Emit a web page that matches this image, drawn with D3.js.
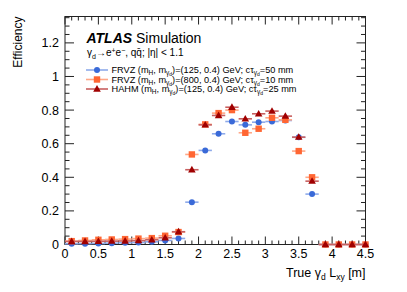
<!DOCTYPE html>
<html>
<head>
<meta charset="utf-8">
<script src="https://cdn.jsdelivr.net/npm/d3@7"></script>
<style>
  body { margin: 0; background: #fff; }
  text { font-family: "Liberation Sans", Arial, sans-serif; }
</style>
</head>
<body>
<div id="chart"></div>
<script>
// bin centres (bin width 0.2 m)
const lxy = [0.1, 0.3, 0.5, 0.7, 0.9, 1.1, 1.3, 1.5, 1.7, 1.9, 2.1, 2.3, 2.5, 2.7, 2.9, 3.1, 3.3, 3.5, 3.7, 3.9, 4.1, 4.3, 4.5];

const frvz125 = [0.004, 0.005, 0.006, 0.008, 0.010, 0.012, 0.016, 0.024, 0.036, 0.252, 0.560, 0.659, 0.732, 0.712, 0.728, 0.732, 0.738, 0.638, 0.300, 0, 0, 0, 0];
const frvz800 = [0.020, 0.024, 0.028, 0.030, 0.032, 0.035, 0.038, 0.052, 0.074, 0.536, 0.715, 0.782, 0.800, 0.665, 0.689, 0.754, 0.742, 0.556, 0.400, 0, 0, 0, 0];
const hahm    = [0.018, 0.018, 0.019, 0.020, 0.021, 0.023, 0.028, 0.040, 0.076, 0.445, 0.712, 0.768, 0.817, 0.748, 0.778, 0.794, 0.764, 0.639, 0.377, 0, 0, 0, 0];

const xTicks = [0, 0.5, 1, 1.5, 2, 2.5, 3, 3.5, 4, 4.5];
const yTicks = [0, 0.2, 0.4, 0.6, 0.8, 1, 1.2];

const W = 407, H = 292;
const margin = {left: 65, right: 41.5, top: 16.5, bottom: 47.5};

let svg = d3.select("#chart").append("svg")
    .attr("width", W).attr("height", H);

let x = d3.scaleLinear().domain([0, 4.5]).range([margin.left, W - margin.right]);
let y = d3.scaleLinear().domain([0, 1.357]).range([H - margin.bottom, margin.top]);

// frame
svg.append("rect")
    .attr("x", x(0)).attr("y", y(1.357))
    .attr("width", x(4.5) - x(0)).attr("height", y(0) - y(1.357))
    .attr("fill", "none").attr("stroke", "#222").attr("stroke-width", 1);

// ticks, ROOT style: inward on all four sides
let xMinor = d3.range(0, 4.501, 0.1);
let yMinor = d3.range(0, 1.351, 0.05);
let tk = svg.append("g").attr("stroke", "#222").attr("stroke-width", 1);
xMinor.forEach(function(v, i) {
  let len = (i % 5 == 0) ? 8 : 4;
  tk.append("line").attr("x1", x(v)).attr("x2", x(v)).attr("y1", y(0)).attr("y2", y(0) - len);
  tk.append("line").attr("x1", x(v)).attr("x2", x(v)).attr("y1", y(1.357)).attr("y2", y(1.357) + len);
});
yMinor.forEach(function(v, i) {
  let len = (i % 4 == 0) ? 9 : 4.5;
  tk.append("line").attr("y1", y(v)).attr("y2", y(v)).attr("x1", x(0)).attr("x2", x(0) + len);
  tk.append("line").attr("y1", y(v)).attr("y2", y(v)).attr("x1", x(4.5)).attr("x2", x(4.5) - len);
});

// tick labels
svg.append("g").selectAll("text").data(xTicks).enter().append("text")
    .attr("x", d => x(d)).attr("y", y(0) + 13)
    .attr("text-anchor", "middle").style("font-size", "12.5px")
    .text(d => d);
svg.append("g").selectAll("text").data(yTicks).enter().append("text")
    .attr("x", x(0) - 6).attr("y", d => y(d) + 4.5)
    .attr("text-anchor", "end").style("font-size", "12.5px")
    .text(d => d);

// axis titles
svg.append("text")
    .attr("transform", "translate(22," + (margin.top) + ") rotate(-90)")
    .attr("text-anchor", "end").style("font-size", "12px")
    .text("Efficiency");

let xt = svg.append("text")
    .attr("x", x(4.5)).attr("y", 277)
    .attr("text-anchor", "end").style("font-size", "12.5px");
xt.append("tspan").text("True γ");
xt.append("tspan").attr("dy", 3).style("font-size", "8.5px").text("d");
xt.append("tspan").attr("dy", -3).text(" L");
xt.append("tspan").attr("dy", 3).style("font-size", "8.5px").text("xy");
xt.append("tspan").attr("dy", -3).text(" [m]");

// series
let series = [
  {name: "frvz125", vals: frvz125, color: "#3a6ad8", bar: "#8eaaea", shape: "circle"},
  {name: "frvz800", vals: frvz800, color: "#ff6633", bar: "#ffa888", shape: "square"},
  {name: "hahm",    vals: hahm,    color: "#a00000", bar: "#c86060", shape: "triangle"}
];

function drawMarker(g, shape, cx, cy, color) {
  if (shape == "circle") {
    g.append("circle").attr("cx", cx).attr("cy", cy).attr("r", 3).attr("fill", color);
  } else if (shape == "square") {
    g.append("rect").attr("x", cx - 3.2).attr("y", cy - 3.2).attr("width", 6.4).attr("height", 6.4).attr("fill", color);
  } else {
    g.append("path").attr("d", d3.symbol().type(d3.symbolTriangle).size(25)())
      .attr("transform", "translate(" + cx + "," + (cy + 0.5) + ")").attr("fill", color);
  }
}

series.forEach(function(s) {
  let g = svg.append("g").attr("class", s.name);
  g.selectAll("line").data(s.vals).enter().append("line")
      .attr("x1", (d, i) => x(lxy[i] - 0.1)).attr("x2", (d, i) => x(Math.min(lxy[i] + 0.1, 4.5)))
      .attr("y1", d => y(d)).attr("y2", d => y(d))
      .attr("stroke", s.bar).attr("stroke-width", 1.6);
  s.vals.forEach(function(d, i) {
    drawMarker(g, s.shape, x(lxy[i]), y(d), s.color);
  });
});

// labels
let at = svg.append("text").attr("x", 86.5).attr("y", 43).style("font-size", "14px");
at.append("tspan").style("font-weight", "bold").style("font-style", "italic").text("ATLAS");
at.append("tspan").text(" Simulation");

let proc = svg.append("text").attr("x", 87).attr("y", 56).style("font-size", "10px");
proc.append("tspan").text("γ");
proc.append("tspan").attr("dy", 2.5).style("font-size", "7px").text("d");
proc.append("tspan").attr("dy", -2.5).text("→e");
proc.append("tspan").attr("dy", -3.5).style("font-size", "7px").text("+");
proc.append("tspan").attr("dy", 3.5).text("e");
proc.append("tspan").attr("dy", -3.5).style("font-size", "7px").text("−");
proc.append("tspan").attr("dy", 3.5).text(", qq̄;  |η| < 1.1");

// legend
let legendRows = [
  {mass: "125", ctau: "50"},
  {mass: "800", ctau: "10"},
  {mass: "125", ctau: "25"}
];
let legendNames = ["FRVZ", "FRVZ", "HAHM"];
legendRows.forEach(function(r, i) {
  let ly = 70 + i * 9.5;
  let s = series[i];
  svg.append("line").attr("x1", 86).attr("x2", 108).attr("y1", ly).attr("y2", ly)
      .attr("stroke", s.bar).attr("stroke-width", 1.6);
  drawMarker(svg, s.shape, 97, ly, s.color);
  let t = svg.append("text").attr("x", 111.5).attr("y", ly + 3.2).style("font-size", "9.2px");
  t.append("tspan").text(legendNames[i] + " (m");
  t.append("tspan").attr("dy", 2).style("font-size", "6.5px").text("H");
  t.append("tspan").attr("dy", -2).text(", m");
  t.append("tspan").attr("dy", 2).style("font-size", "6.5px").text("γ");
  t.append("tspan").attr("dy", 1).style("font-size", "5px").text("d");
  t.append("tspan").attr("dy", -3).text(")=(" + r.mass + ", 0.4) GeV; cτ");
  t.append("tspan").attr("dy", 2).style("font-size", "6.5px").text("γ");
  t.append("tspan").attr("dy", 1).style("font-size", "5px").text("d");
  t.append("tspan").attr("dy", -3).text("=" + r.ctau + " mm");
});
</script>
</body>
</html>
